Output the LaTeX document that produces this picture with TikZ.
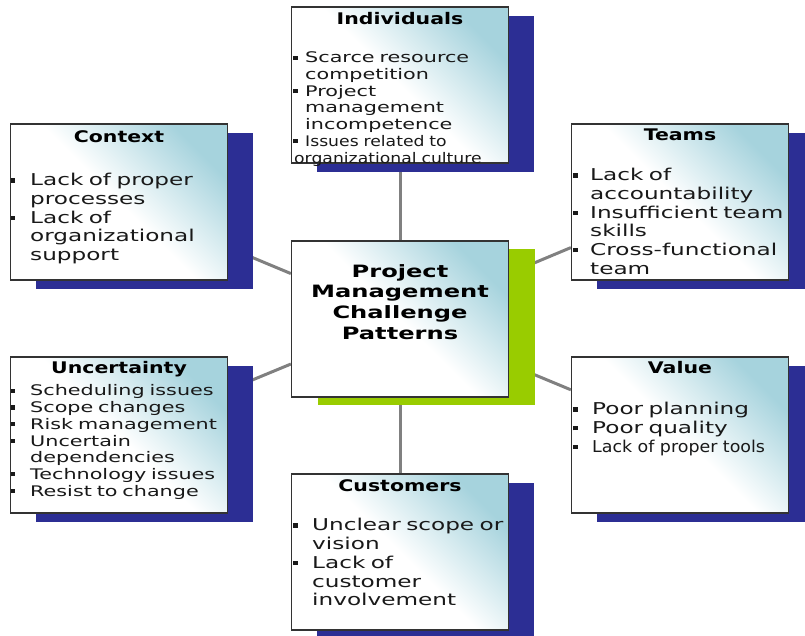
\documentclass[tikz,border=0pt]{standalone}
\usepackage{fontspec}
\setmainfont{DejaVu Sans}[FakeStretch=1.42]
\newfontfamily\thinfont{DejaVu Sans}[FakeStretch=1.18]
\newfontfamily\narrowfont{DejaVu Sans}[FakeStretch=1.07]
\newfontfamily\headfont{DejaVu Sans}[FakeStretch=1.28]
\usetikzlibrary{shadows,backgrounds}
\definecolor{shblue}{RGB}{44,46,148}
\definecolor{ctrgreen}{RGB}{153,204,0}
\definecolor{boxteal}{RGB}{166,211,221}
\definecolor{linegray}{RGB}{128,128,128}
\newcommand\itm[2][20pt]{\par\hangindent=#1\hangafter=1\noindent\makebox[#1][l]{\hspace{1pt}\raisebox{.2em}{\rule{4.3pt}{4.3pt}}}#2}
\tikzset{
  panel/.style={draw=black!80,line width=1.2pt,minimum width=217pt,minimum height=156pt,inner sep=0pt,
    top color=boxteal,bottom color=white,middle color=white,shading angle=-45},
  box/.style={panel,general shadow={fill=shblue,shadow xshift=25pt,shadow yshift=-9pt}},
  ctrbox/.style={panel,general shadow={fill=ctrgreen,shadow xshift=26pt,shadow yshift=-8pt}},
  head/.style={anchor=base,inner sep=0pt,font=\headfont\bfseries\fontsize{16}{19}\selectfont},
  lst/.style={anchor=north west,inner sep=0pt,text width=230pt,align=left,text=black!90},
  big/.style={lst,font=\fontsize{16.3}{18.7}\selectfont},
  small/.style={lst,font=\fontsize{14.6}{16.7}\selectfont},
  link/.style={linegray,line width=3pt}
}
\begin{document}
\begin{tikzpicture}[x=1pt,y=-1pt]
\useasboundingbox (0,0) rectangle (805,636);
%boxes
\node[box] (ind) at (400,85) {};
\node[box] (ctx) at (119,202) {};
\node[box] (tms) at (680,202) {};
\node[ctrbox] (ctr) at (400,319) {};
\node[box] (unc) at (119,435) {};
\node[box] (val) at (680,435) {};
\node[box] (cus) at (400,552) {};
%links
\begin{pgfonlayer}{background}
\foreach \b in {ind,ctx,tms,unc,val,cus}
{
\draw[link] (ctr) -- (\b);
}
\end{pgfonlayer}
%headings
\node[head] (indh) at (400,25) {Individuals};
\node[head] (ctxh) at (119,143) {Context};
\node[head] (tmsh) at (680,141) {Teams};
\node[head] (unch) at (119,373) {Uncertainty};
\node[head] (valh) at (680,373) {Value};
\node[head] (cush) at (400,491) {Customers};
\node[anchor=north,inner sep=0pt,align=center,font=\bfseries\fontsize{17}{20.7}\selectfont] (ctrt) at (400,264) {Project\\Management\\Challenge\\Patterns};
%lists
\node[small] (indl) at (292,46) {\itm[13pt]{Scarce resource\newline competition}\itm[13pt]{Project\newline management\newline incompetence}\itm[13pt]{\thinfont Issues related to}\par\noindent\hspace{2pt}{\thinfont organizational culture}\par};
\node[big] (ctxl) at (10,167) {\itm{Lack of proper\newline processes}\itm{Lack of\newline organizational\newline support}\par};
\node[big] (tmsl) at (572,162) {\itm[18pt]{Lack of\newline accountability}\itm[18pt]{Insufficient team\newline skills}\itm[18pt]{Cross-functional\newline team}\par};
\node[small] (uncl) at (10,379) {\itm{Scheduling issues}\itm{Scope changes}\itm{Risk management}\itm{Uncertain\newline dependencies}\itm{Technology issues}\itm{Resist to change}\par};
\node[big] (vall) at (572,396) {\itm{Poor planning}\itm{Poor quality}\itm{\narrowfont Lack of proper tools}\par};
\node[big] (cusl) at (292,512) {\itm{Unclear scope or\newline vision}\itm{Lack of\newline customer\newline involvement}\par};
\end{tikzpicture}
\end{document}
